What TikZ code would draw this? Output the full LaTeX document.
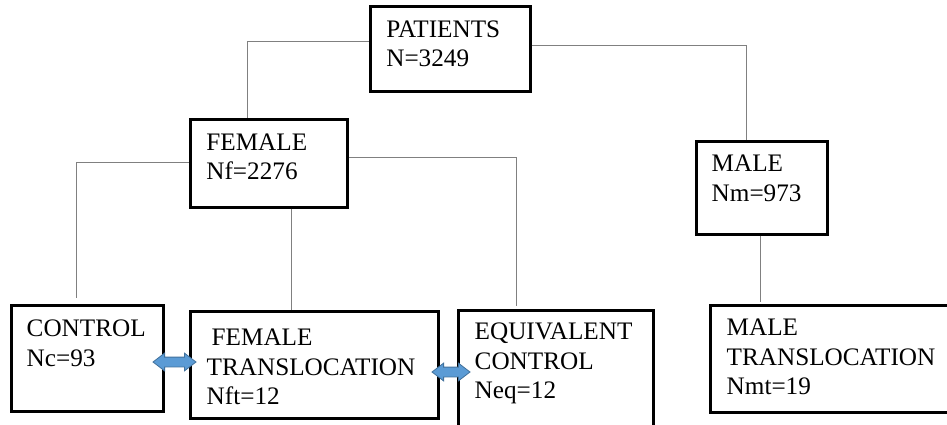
\documentclass[tikz,border=0pt]{standalone}
\usepackage{fontspec}
\setmainfont{Liberation Serif}
\usetikzlibrary{shapes.arrows,calc}
\definecolor{arrowfill}{HTML}{5B9BD5}
\definecolor{arrowdraw}{HTML}{41719C}
\definecolor{linkgray}{HTML}{808080}
\tikzset{
  box/.style={draw=black, line width=3pt, fill=none, rectangle, inner sep=0pt},
  txt/.style={anchor=base west, inner sep=0pt, align=left, text width=300pt,
    font=\fontsize{25.2}{29.5}\selectfont},
  link/.style={draw=linkgray, line width=1pt},
  dblarrow/.style={double arrow, fill=arrowfill, draw=arrowdraw, line width=0.8pt,
    inner sep=4.5pt, minimum width=17pt, double arrow head extend=4pt,
    double arrow tip angle=75}
}
\begin{document}
\begin{tikzpicture}[x=1pt,y=-1pt]
\path[use as bounding box, fill=white] (0,0) rectangle (947,425);
\clip (0,0) rectangle (947,425);
% boxes
\node[box, minimum width=160pt, minimum height=85pt] (pat) at (450,49.5) {};
\node[box, minimum width=157pt, minimum height=87pt] (fem) at (268.5,163.5) {};
\node[box, minimum width=131pt, minimum height=93pt] (male) at (761.5,187.5) {};
\node[box, minimum width=152pt, minimum height=106pt] (ctrl) at (87,358) {};
\node[box, minimum width=248pt, minimum height=107pt] (ft) at (314,364.5) {};
\node[box, minimum width=195pt, minimum height=130pt] (eq) at (555.5,375) {};
\node[box, minimum width=260pt, minimum height=107pt] (mt) at (840,358.5) {};
% texts
\node[txt] (tpat) at ($(pat.north west)+(17.6,31.6)$) {PATIENTS\\N=3249};
\node[txt] (tfem) at ($(fem.north west)+(17.7,31.9)$) {FEMALE\\Nf=2276};
\node[txt] (tmale) at ($(male.north west)+(17,32)$) {MALE\\Nm=973};
\node[txt] (tctrl) at ($(ctrl.north west)+(17,33.3)$) {CONTROL\\Nc=93};
\node[txt] (tft) at ($(ft.north west)+(18,36.3)$) {\hspace*{5pt}FEMALE\\TRANSLOCATION\\Nft=12};
\node[txt] (teq) at ($(eq.north west)+(18,31)$) {EQUIVALENT\\CONTROL\\Neq=12};
\node[txt] (tmt) at ($(mt.north west)+(18,32)$) {MALE\\TRANSLOCATION\\Nmt=19};
% connectors
\draw[link] ([yshift=7.5pt]pat.west) -| ([xshift=-21.5pt]fem.north);
\draw[link] ([yshift=3.5pt]pat.east) -| ([xshift=-15.5pt]male.north);
\draw[link, shorten >=6pt] ([yshift=1.5pt]fem.west) -| ([xshift=-11pt]ctrl.north);
\draw[link, shorten >=3pt] ([yshift=6.5pt]fem.east) -| ([xshift=-39.5pt]eq.north);
\draw[link] ([xshift=22.5pt]fem.south) -- ([xshift=-23pt]ft.north);
\draw[link, shorten >=2pt] ([xshift=-1.5pt]male.south) -- ([xshift=-80pt]mt.north);
% double arrows
\node[dblarrow, minimum height=43pt] (a1) at (174.5,362) {};
\node[dblarrow, minimum height=38pt] (a2) at (451,372) {};
\end{tikzpicture}
\end{document}
